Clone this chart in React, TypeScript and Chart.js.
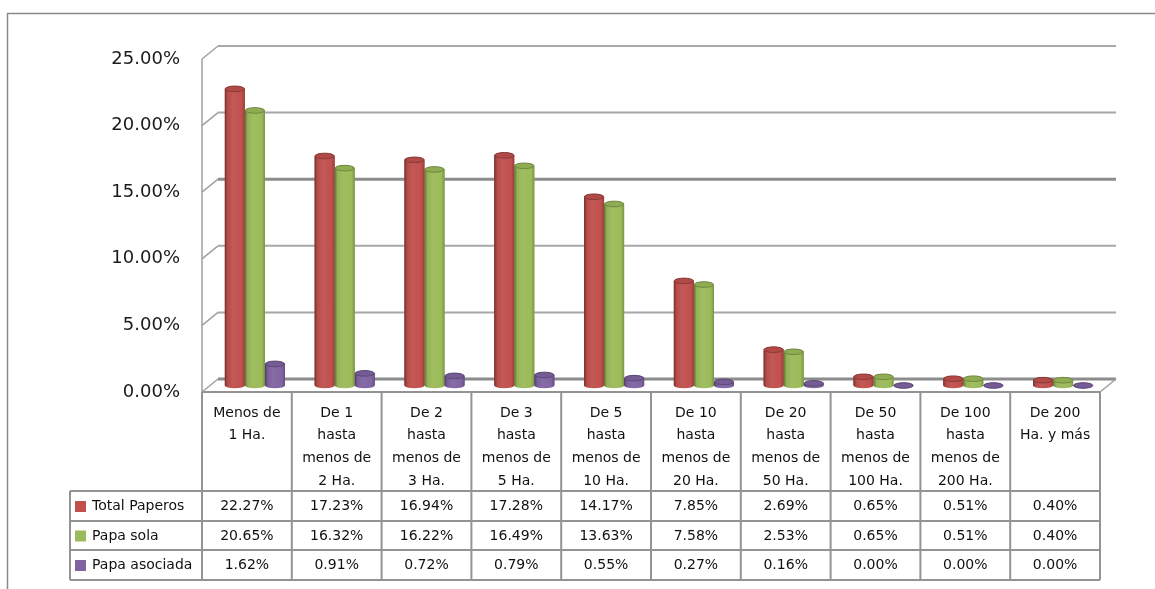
import React, { useEffect, useRef } from "react";
import { Chart, registerables } from "chart.js";

Chart.register(...registerables);

const categories: string[][] = [
  ["Menos de", "1 Ha."],
  ["De 1", "hasta", "menos de", "2 Ha."],
  ["De 2", "hasta", "menos de", "3 Ha."],
  ["De 3", "hasta", "menos de", "5 Ha."],
  ["De 5", "hasta", "menos de", "10 Ha."],
  ["De 10", "hasta", "menos de", "20 Ha."],
  ["De 20", "hasta", "menos de", "50 Ha."],
  ["De 50", "hasta", "menos de", "100 Ha."],
  ["De 100", "hasta", "menos de", "200 Ha."],
  ["De 200", "Ha. y más"],
];
const seriesNames = ["Total Paperos", "Papa sola", "Papa asociada"];
const totalPaperos = [22.27, 17.23, 16.94, 17.28, 14.17, 7.85, 2.69, 0.65, 0.51, 0.4];
const papaSola = [20.65, 16.32, 16.22, 16.49, 13.63, 7.58, 2.53, 0.65, 0.51, 0.4];
const papaAsociada = [1.62, 0.91, 0.72, 0.79, 0.55, 0.27, 0.16, 0.0, 0.0, 0.0];
const seriesValues = [totalPaperos, papaSola, papaAsociada];
const seriesColors = ["#C0504D", "#9BBB59", "#8064A2"];
const yMin = 0;
const yMax = 25;
const yStep = 5;

// 3D depth offsets (half depth)
const DX = 8;
const DY = 6.5;
const FONT = '"DejaVu Sans", sans-serif';

function shade(hex: string, f: number): string {
  const n = parseInt(hex.slice(1), 16);
  let r = (n >> 16) & 255, g = (n >> 8) & 255, b = n & 255;
  if (f >= 0) {
    r = r + (255 - r) * f; g = g + (255 - g) * f; b = b + (255 - b) * f;
  } else {
    r = r * (1 + f); g = g * (1 + f); b = b * (1 + f);
  }
  return `rgb(${Math.round(r)},${Math.round(g)},${Math.round(b)})`;
}

const framePlugin = {
  id: "frame",
  beforeDraw(chart: any) {
    const { ctx } = chart;
    ctx.save();
    ctx.fillStyle = "#ffffff";
    ctx.fillRect(0, 0, chart.width, chart.height);
    ctx.strokeStyle = "#8a8a8a";
    ctx.lineWidth = 1.5;
    ctx.strokeRect(7.5, 13.5, 1300, 700);
    ctx.restore();
  },
  beforeDatasetsDraw(chart: any) {
    const { ctx, chartArea } = chart;
    const y = chart.scales.y;
    const left = chartArea.left, right = chartArea.right;
    const frontL = left - DX, backL = left + DX, backR = right + DX, frontR = right - DX;
    ctx.save();
    y.ticks.forEach((t: any) => {
      const py = y.getPixelForValue(t.value);
      const by = py - DY, fy = py + DY;
      const major = t.value === 15 || t.value === 0;
      ctx.strokeStyle = major ? "#8c8c8c" : "#a8a8a8";
      ctx.lineWidth = major ? 3 : 2;
      ctx.beginPath();
      ctx.moveTo(backL, by);
      ctx.lineTo(backR, by);
      ctx.stroke();
      ctx.strokeStyle = "#a0a0a0";
      ctx.lineWidth = 1.5;
      ctx.beginPath();
      ctx.moveTo(frontL, fy);
      ctx.lineTo(backL, by);
      ctx.stroke();
    });
    const y0 = y.getPixelForValue(yMin);
    const yTop = y.getPixelForValue(yMax);
    ctx.strokeStyle = "#a0a0a0";
    ctx.lineWidth = 1.5;
    ctx.beginPath();
    ctx.moveTo(frontL, yTop + DY);
    ctx.lineTo(frontL, y0 + DY);
    ctx.moveTo(frontR, y0 + DY);
    ctx.lineTo(backR, y0 - DY);
    ctx.stroke();
    ctx.restore();
  },
  afterDatasetsDraw(chart: any) {
    const { ctx } = chart;
    ctx.save();
    chart.data.datasets.forEach((ds: any, di: number) => {
      const meta = chart.getDatasetMeta(di);
      const color = seriesColors[di];
      meta.data.forEach((el: any) => {
        const { x, y, base, width } = el.getProps(["x", "y", "base", "width"], true);
        const r = width / 2;
        const ry = Math.max(2.5, width * 0.14);
        const g = ctx.createLinearGradient(x - r, 0, x + r, 0);
        g.addColorStop(0, shade(color, -0.4));
        g.addColorStop(0.14, shade(color, -0.05));
        g.addColorStop(0.4, shade(color, 0.05));
        g.addColorStop(0.85, shade(color, 0));
        g.addColorStop(1, shade(color, -0.22));
        ctx.fillStyle = g;
        ctx.beginPath();
        ctx.moveTo(x - r, y);
        ctx.lineTo(x - r, base);
        ctx.ellipse(x, base, r, ry, 0, Math.PI, 0, true);
        ctx.lineTo(x + r, y);
        ctx.ellipse(x, y, r, ry, 0, 0, Math.PI, true);
        ctx.closePath();
        ctx.fill();
        ctx.fillStyle = shade(color, -0.08);
        ctx.strokeStyle = shade(color, -0.28);
        ctx.lineWidth = 1;
        ctx.beginPath();
        ctx.ellipse(x, y, r - 0.5, ry, 0, 0, Math.PI * 2);
        ctx.fill();
        ctx.stroke();
      });
    });
    ctx.restore();
  },
  afterDraw(chart: any) {
    const { ctx } = chart;
    const x = chart.scales.x;
    const y = chart.scales.y;
    const colW = x.getPixelForValue(1) - x.getPixelForValue(0);
    const n = categories.length;
    const colLeft = (i: number) => x.getPixelForValue(i) - colW / 2 - DX;
    const top = y.getPixelForValue(yMin) + DY;
    const headerBottom = 491;
    const rowBottoms = [521, 550, 580];
    const legendLeft = 70;
    const tableRight = colLeft(n - 1) + colW;
    ctx.save();
    ctx.strokeStyle = "#939393";
    ctx.lineWidth = 2;
    ctx.beginPath();
    ctx.moveTo(colLeft(0), top);
    ctx.lineTo(tableRight, top);
    ctx.moveTo(legendLeft, headerBottom);
    ctx.lineTo(tableRight, headerBottom);
    rowBottoms.forEach((rb) => {
      ctx.moveTo(legendLeft, rb);
      ctx.lineTo(tableRight, rb);
    });
    for (let i = 0; i <= n; i++) {
      const cx = i < n ? colLeft(i) : tableRight;
      ctx.moveTo(cx, top);
      ctx.lineTo(cx, rowBottoms[rowBottoms.length - 1]);
    }
    ctx.moveTo(legendLeft, headerBottom);
    ctx.lineTo(legendLeft, rowBottoms[rowBottoms.length - 1]);
    ctx.stroke();

    ctx.fillStyle = "#111";
    ctx.font = `14px ${FONT}`;
    ctx.textAlign = "center";
    ctx.textBaseline = "middle";
    categories.forEach((lines, i) => {
      const cx = colLeft(i) + colW / 2;
      lines.forEach((ln, k) => {
        ctx.fillText(ln, cx, 413 + k * 22.7);
      });
    });
    const rowTops = [headerBottom, rowBottoms[0], rowBottoms[1]];
    seriesValues.forEach((vals, si) => {
      const cy = (rowTops[si] + rowBottoms[si]) / 2 + 0.5;
      ctx.fillStyle = seriesColors[si];
      ctx.fillRect(75, cy - 5.5, 11, 11);
      ctx.fillStyle = "#111";
      ctx.textAlign = "left";
      ctx.fillText(seriesNames[si], 92, cy);
      ctx.textAlign = "center";
      vals.forEach((v, i) => {
        ctx.fillText(v.toFixed(2) + "%", colLeft(i) + colW / 2, cy);
      });
    });
    ctx.restore();
  },
};

export default function App() {
  const ref = useRef<HTMLCanvasElement | null>(null);
  useEffect(() => {
    if (!ref.current) return;
    const chart = new Chart(ref.current, {
      type: "bar",
      data: {
        labels: categories.map((c) => c.join(" ")),
        datasets: seriesValues.map((vals, i) => ({
          label: seriesNames[i],
          data: vals,
          backgroundColor: seriesColors[i],
          borderWidth: 0,
          categoryPercentage: 0.67,
          barPercentage: 1.0,
        })),
      },
      options: {
        responsive: false,
        animation: false,
        devicePixelRatio: 1,
        layout: { padding: { left: 0, top: 52.5, right: 47, bottom: 203.5 } },
        plugins: { legend: { display: false }, tooltip: { enabled: false } },
        scales: {
          x: { display: false },
          y: {
            min: yMin,
            max: yMax,
            grid: { display: false, drawTicks: false },
            border: { display: false },
            afterFit: (scale: any) => {
              scale.width = 210;
            },
            ticks: {
              stepSize: yStep,
              padding: 30,
              labelOffset: DY,
              color: "#1a1a1a",
              font: { family: FONT, size: 18 },
              callback: (v: any) => Number(v).toFixed(2) + "%",
            },
          },
        },
      },
      plugins: [framePlugin],
    });
    return () => chart.destroy();
  }, []);
  return (
    <div style={{ position: "fixed", left: 0, top: 0, width: 1155, height: 589, background: "#fff" }}>
      <canvas ref={ref} width={1155} height={589} style={{ display: "block" }} />
    </div>
  );
}
